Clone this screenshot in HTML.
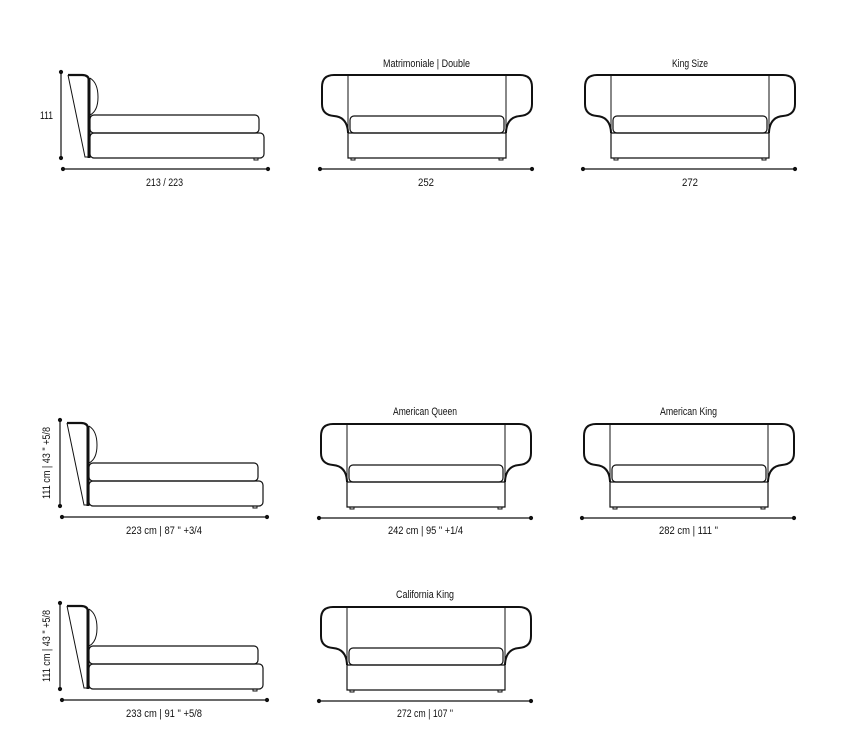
<!DOCTYPE html>
<html><head><meta charset="utf-8"><style>
html,body{margin:0;padding:0;background:#fff;}
svg{display:block;}
text{font-family:"Liberation Sans",sans-serif;font-size:11px;fill:#111;}
</style></head><body>
<svg width="864" height="742" viewBox="0 0 864 742" xmlns="http://www.w3.org/2000/svg">
<defs>
<g id="side" fill="none" stroke="#111">
  <path d="M0,0 H14 Q21,0 21,6" stroke-width="2.2"/>
  <path d="M21,3 V83" stroke-width="3"/>
  <path d="M0,0 L17,82 H21" stroke-width="1"/>
  <path d="M22,3 Q30,8 30,22 Q30,36 22,40" stroke-width="1"/>
  <rect x="22" y="40" width="169" height="18" rx="4" stroke-width="1.2"/>
  <rect x="22" y="58" width="174" height="25" rx="4" stroke-width="1.2"/>
  <path d="M186,83 v2 h4 v-2" stroke-width="1"/>
  <path d="M-7,-3 V83 M-5,94 H200" stroke-width="1.2"/>
  <circle cx="-7" cy="-3" r="1.6" fill="#111"/><circle cx="-7" cy="83" r="1.6" fill="#111"/>
  <circle cx="-5" cy="94" r="1.6" fill="#111"/><circle cx="200" cy="94" r="1.6" fill="#111"/>
</g>
<g id="front" fill="none" stroke="#111">
  <path d="M12,0 H198 Q210,0 210,12 V29 Q210,40 198,41 Q185,42 184,57 V58 M12,0 Q0,0 0,12 V29 Q0,40 12,41 Q25,42 26,57 V58" stroke-width="2"/>
  <path d="M26,0 V83 M184,0 V83" stroke-width="1"/>
  <rect x="28" y="41" width="154" height="17" rx="4" stroke-width="1.2"/>
  <path d="M26,58 H184 V83 H26 Z" stroke-width="1.2"/>
  <path d="M29,83 v2 h4 v-2 M177,83 v2 h4 v-2" stroke-width="1"/>
  <path d="M-2,94 H210" stroke-width="1.2"/>
  <circle cx="-2" cy="94" r="1.6" fill="#111"/><circle cx="210" cy="94" r="1.6" fill="#111"/>
</g>
</defs>

<use href="#side" x="68" y="75"/>
<use href="#front" x="322" y="75"/>
<use href="#front" x="585" y="75"/>
<text x="40" y="119" textLength="13" lengthAdjust="spacingAndGlyphs">111</text>
<text x="146" y="186" textLength="37" lengthAdjust="spacingAndGlyphs">213 / 223</text>
<text x="418" y="186" textLength="16" lengthAdjust="spacingAndGlyphs">252</text>
<text x="682" y="186" textLength="16" lengthAdjust="spacingAndGlyphs">272</text>
<text x="383" y="67" textLength="87" lengthAdjust="spacingAndGlyphs">Matrimoniale | Double</text>
<text x="672" y="67" textLength="36" lengthAdjust="spacingAndGlyphs">King Size</text>

<use href="#side" x="67" y="423"/>
<use href="#front" x="321" y="424"/>
<use href="#front" x="584" y="424"/>
<text transform="translate(50,463) rotate(-90)" x="-36" textLength="72" lengthAdjust="spacingAndGlyphs">111 cm | 43 " +5/8</text>
<text x="126" y="534" textLength="76" lengthAdjust="spacingAndGlyphs">223 cm | 87 " +3/4</text>
<text x="388" y="534" textLength="75" lengthAdjust="spacingAndGlyphs">242 cm | 95 " +1/4</text>
<text x="659" y="534" textLength="59" lengthAdjust="spacingAndGlyphs">282 cm | 111 "</text>
<text x="393" y="415" textLength="64" lengthAdjust="spacingAndGlyphs">American Queen</text>
<text x="660" y="415" textLength="57" lengthAdjust="spacingAndGlyphs">American King</text>

<use href="#side" x="67" y="606"/>
<use href="#front" x="321" y="607"/>
<text transform="translate(50,646) rotate(-90)" x="-36" textLength="72" lengthAdjust="spacingAndGlyphs">111 cm | 43 " +5/8</text>
<text x="126" y="717" textLength="76" lengthAdjust="spacingAndGlyphs">233 cm | 91 " +5/8</text>
<text x="397" y="717" textLength="56" lengthAdjust="spacingAndGlyphs">272 cm | 107 "</text>
<text x="396" y="598" textLength="58" lengthAdjust="spacingAndGlyphs">California King</text>
</svg>
</body></html>
